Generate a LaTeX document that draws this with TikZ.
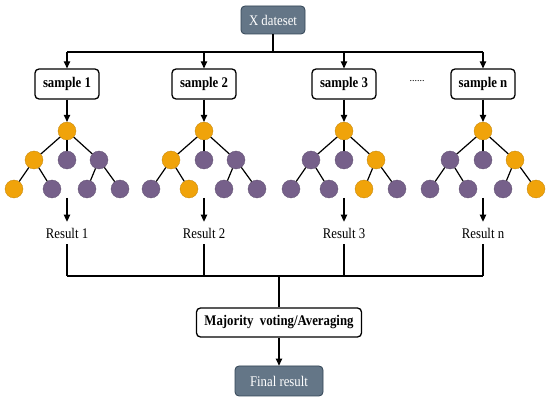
\documentclass[tikz,border=0pt]{standalone}
\usepackage{fontspec}
\usepackage{graphicx}
\setmainfont{Liberation Serif}
\usetikzlibrary{arrows.meta}
\definecolor{orng}{HTML}{F0A30A}
\definecolor{purp}{HTML}{76608A}
\definecolor{slate}{HTML}{647687}
\definecolor{slated}{HTML}{314354}
\newcommand{\tallt}[1]{\scalebox{1}[1.15]{#1}}
\begin{document}
\begin{tikzpicture}[x=1pt,y=-1pt,
  font=\fontsize{12.8}{14}\selectfont,
  samplebox/.style={draw, line width=1.3pt, rounded corners=4pt, minimum width=64pt, minimum height=30pt, inner sep=0pt, font=\fontsize{12.8}{14}\selectfont\bfseries},
  darkbox/.style={draw=slated, fill=slate, text=white, rounded corners=4pt, line width=0.8pt, inner sep=0pt},
  tnode/.style={circle, minimum size=18pt, inner sep=0pt, line width=0.3pt},
  link/.style={line width=1.2pt},
  arr/.style={line width=1.2pt, -{Triangle[length=7pt,width=6.5pt]}},
  result/.style={inner xsep=1pt, inner ysep=6pt}]
\useasboundingbox (0,0) rectangle (550,401);

% top
\node[darkbox, minimum width=64pt, minimum height=28pt] (xd) at (273,20) {\tallt{X dateset}};
\coordinate (tl) at (67,52);
\coordinate (tr) at (483,52);
\draw[link] (xd.south) -- (xd.south |- tl);
\draw[link] (tl) -- (tr);

% samples
\node[samplebox] (s1) at (67,84) {\tallt{sample 1}};
\node[samplebox] (s2) at (204,84) {\tallt{sample 2}};
\node[samplebox] (s3) at (344,84) {\tallt{sample 3}};
\node[samplebox] (s4) at (483,84) {\tallt{sample n}};
\node (dots) at (417,81) {\fontsize{10}{12}\selectfont ......};

% results
\node[result] (res1) at (67,233) {\tallt{Result 1}};
\node[result] (res2) at (204,233) {\tallt{Result 2}};
\node[result] (res3) at (344,233) {\tallt{Result 3}};
\node[result] (res4) at (483,233) {\tallt{Result n}};

% trees
\foreach \t/\x/\a/\b/\c/\d/\e/\f/\g in {
  1/67/orng/purp/purp/orng/purp/purp/purp,
  2/204/orng/purp/purp/purp/orng/purp/purp,
  3/344/purp/purp/orng/purp/purp/orng/purp,
  4/483/purp/purp/orng/purp/purp/purp/orng}{
  \node[tnode, fill=orng, draw=orng!80!black] (r\t) at (\x,131) {};
  \node[tnode, fill=\a, draw=\a!80!black] (la\t) at ({\x-33},160) {};
  \node[tnode, fill=\b, draw=\b!80!black] (lb\t) at (\x,160) {};
  \node[tnode, fill=\c, draw=\c!80!black] (lc\t) at ({\x+32},160) {};
  \node[tnode, fill=\d, draw=\d!80!black] (ka\t) at ({\x-53},189) {};
  \node[tnode, fill=\e, draw=\e!80!black] (kb\t) at ({\x-15},189) {};
  \node[tnode, fill=\f, draw=\f!80!black] (kc\t) at ({\x+20},189) {};
  \node[tnode, fill=\g, draw=\g!80!black] (kd\t) at ({\x+53},189) {};
  \draw[link] (r\t) -- (la\t);
  \draw[link] (r\t) -- (lb\t);
  \draw[link] (r\t) -- (lc\t);
  \draw[link] (la\t) -- (ka\t);
  \draw[link] (la\t) -- (kb\t);
  \draw[link] (lc\t) -- (kc\t);
  \draw[link] (lc\t) -- (kd\t);
  \draw[arr] (s\t.north |- tl) -- (s\t.north);
  \draw[arr] (s\t.south) -- (r\t.north);
  \coordinate (ta\t) at (\x,198);
  \draw[arr] (ta\t) -- (res\t.north);
}

% bottom
\coordinate (bl) at (67,276);
\coordinate (br) at (483,276);
\foreach \t in {1,2,3,4}{
  \draw[link] (res\t.south) -- (res\t.south |- bl);
}
\draw[link] (bl) -- (br);
\node[samplebox, minimum width=165pt, minimum height=29pt] (mv) at (279,322.5) {\tallt{Majority\ \ voting/Averaging}};
\node[darkbox, minimum width=88pt, minimum height=30pt] (fr) at (279,381) {\tallt{Final result}};
\draw[link] (mv.north |- bl) -- (mv.north);
\draw[arr] (mv.south) -- (fr.north);
\end{tikzpicture}
\end{document}
